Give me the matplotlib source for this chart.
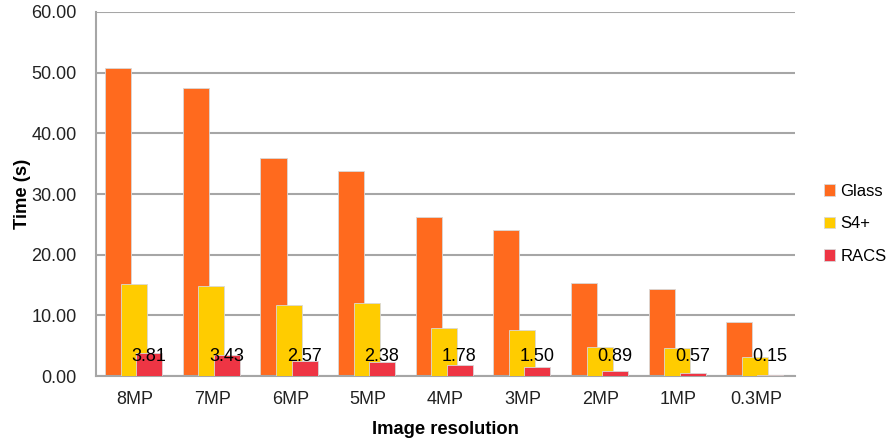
import numpy as np
import matplotlib
matplotlib.use("Agg")
import matplotlib.pyplot as plt

plt.rcParams['font.family'] = ['Liberation Sans', 'DejaVu Sans']

categories = ['8MP', '7MP', '6MP', '5MP', '4MP', '3MP', '2MP', '1MP', '0.3MP']
glass = [50.7, 47.4, 35.9, 33.8, 26.2, 24.1, 15.3, 14.4, 9.0]
s4plus = [15.2, 14.8, 11.7, 12.0, 7.9, 7.6, 4.8, 4.6, 3.1]
racs = [3.81, 3.43, 2.57, 2.38, 1.78, 1.50, 0.89, 0.57, 0.15]
yticks = [0, 10, 20, 30, 40, 50, 60]

fig = plt.figure(figsize=(8.9, 4.42), dpi=100)
ax = fig.add_axes([0.108, 0.149, 0.785, 0.824])

x = np.arange(len(categories))
w = 0.335
edge = '#d8d8d8'
ax.bar(x - 0.215, glass, w, color='#ff6a1e', edgecolor=edge, linewidth=0.6, label='Glass', zorder=2)
ax.bar(x - 0.015, s4plus, w, color='#ffcc00', edgecolor=edge, linewidth=0.6, label='S4+', zorder=3)
ax.bar(x + 0.185, racs, w, color='#ee3544', edgecolor=edge, linewidth=0.6, label='RACS', zorder=4)

for xi, v in zip(x, racs):
    ax.text(xi + 0.18, 3.3, '%.2f' % v, ha='center', va='center', fontsize=13, color='black', zorder=5)

ax.set_xlim(-0.5, len(categories) - 0.5)
ax.set_ylim(0, 60)
ax.set_yticks(yticks)
ax.set_yticklabels(['%.2f' % t for t in yticks], fontsize=13, color='#222222')
ax.set_xticks(x)
ax.set_xticklabels(categories, fontsize=13, color='#222222')
ax.tick_params(axis='x', length=0, pad=11)
ax.tick_params(axis='y', length=0, pad=14)

ax.yaxis.grid(True, color='#a6a6a6', linewidth=1.5, zorder=0)
ax.set_axisbelow(True)
for s in ['top', 'right']:
    ax.spines[s].set_visible(False)
for s in ['left', 'bottom']:
    ax.spines[s].set_color('#a6a6a6')
    ax.spines[s].set_linewidth(1.5)

ax.set_xlabel('Image resolution', fontsize=13.2, fontweight='bold', labelpad=9)
ax.set_ylabel('Time (s)', fontsize=13.2, fontweight='bold', labelpad=0)

ax.legend(loc='center left', bbox_to_anchor=(1.021, 0.418), frameon=False, fontsize=12,
          handlelength=0.65, handleheight=0.65, handletextpad=0.3, labelspacing=1.05)

fig.savefig('out.png', dpi=100)
